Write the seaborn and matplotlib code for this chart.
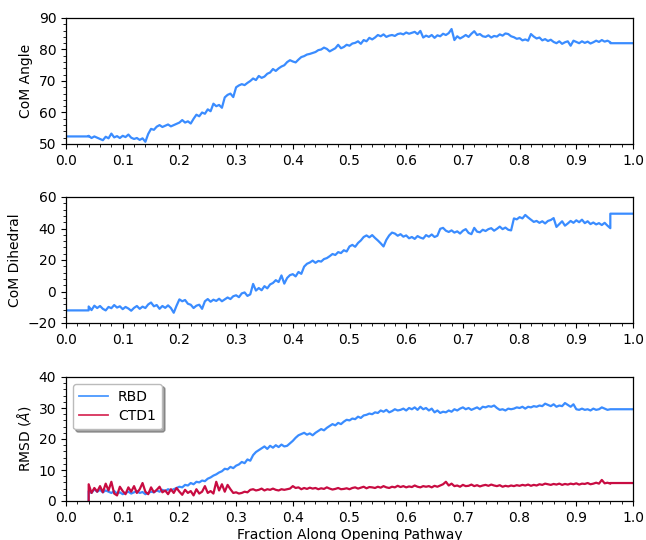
import numpy as np
import pandas as pd
import matplotlib
matplotlib.use("Agg")
import matplotlib.pyplot as plt
from matplotlib.ticker import MultipleLocator
import seaborn as sns

# ---- data ----
frac_start, frac_end, frac_step = 0.04, 0.96, 0.005
pad_left = [0.0, 0.04]
pad_left_rmsd = [0.04, 0.04]
pad_right = [0.96, 1.0]

com_angle = [
    52.6, 51.9, 52.4, 52.0, 51.6, 51.2, 52.3, 51.8, 53.3, 52.1,
    52.5, 51.9, 52.6, 52.2, 53.0, 52.0, 51.6, 51.9, 51.3, 51.8,
    50.7, 53.2, 54.8, 54.5, 55.5, 56.0, 55.4, 55.8, 56.2, 55.6,
    56.0, 56.4, 56.8, 57.6, 56.8, 57.2, 56.5, 58.0, 59.3, 58.8,
    60.0, 59.6, 61.0, 60.4, 62.8, 62.0, 62.4, 61.5, 64.8, 65.6,
    66.0, 64.9, 68.0, 68.6, 69.0, 68.7, 69.4, 70.0, 70.8, 70.3,
    71.6, 71.0, 71.4, 72.3, 72.7, 73.8, 73.2, 74.0, 74.6, 75.0,
    76.0, 76.6, 76.2, 75.9, 76.8, 77.6, 77.9, 78.4, 78.6, 78.9,
    79.2, 79.8, 80.0, 80.6, 80.2, 79.4, 79.9, 80.4, 81.5, 80.4,
    80.8, 81.5, 81.2, 81.9, 82.1, 82.6, 81.8, 83.0, 82.6, 83.7,
    83.2, 83.8, 84.6, 84.2, 84.8, 84.0, 84.4, 84.6, 84.3, 84.9,
    85.1, 84.8, 85.4, 85.0, 85.3, 85.6, 84.9, 85.9, 83.8, 84.4,
    84.0, 84.6, 83.7, 84.5, 84.2, 85.0, 84.6, 85.2, 86.5, 83.0,
    84.2, 83.5, 84.0, 84.6, 84.0, 85.0, 85.8, 84.6, 84.9, 84.2,
    84.0, 84.5, 83.8, 84.3, 84.1, 84.8, 84.4, 85.1, 84.9, 84.2,
    83.9, 83.4, 83.6, 82.9, 83.2, 82.8, 84.9, 84.1, 83.5, 83.8,
    82.9, 83.3, 82.7, 83.1, 82.4, 82.0, 82.6, 81.8, 82.3, 82.6,
    81.2, 82.8, 82.4, 82.0, 82.6, 82.1, 82.5, 81.9, 82.3, 82.8,
    82.4, 83.0, 82.5, 82.8, 82.3,
]
angle_pad = [52.4, 52.4, 82.0, 82.0]

com_dihedral = [
    -9.5, -11.8, -9.0, -10.5, -9.2, -11.0, -12.0, -9.8, -10.6, -8.6,
    -10.2, -9.4, -11.2, -9.8, -10.8, -12.2, -10.4, -9.2, -11.0, -9.6,
    -10.5, -8.2, -7.0, -9.4, -8.6, -11.0, -9.2, -10.4, -8.8, -10.5,
    -13.5, -9.0, -5.0, -6.2, -5.4, -7.8, -8.4, -10.5, -9.0, -8.4,
    -11.0, -6.2, -4.8, -6.5, -5.2, -6.0, -4.6, -6.2, -5.0, -3.8,
    -4.8, -3.0, -2.4, -3.6, -1.2, -0.6, -2.8, -1.8, 4.8, 0.6,
    2.2, 0.8, 3.4, 2.0, 4.5, 5.4, 7.2, 6.0, 10.2, 5.0,
    8.6, 10.4, 11.0, 9.6, 12.4, 11.2, 15.8, 17.6, 18.4, 19.6,
    18.2, 19.4, 19.0, 20.6, 21.2, 22.4, 23.8, 23.2, 25.0, 24.4,
    26.2, 25.4, 28.6, 29.6, 28.4, 30.8, 32.4, 34.6, 35.6, 34.4,
    35.8, 34.0, 32.4, 30.6, 28.6, 32.8, 35.6, 37.4, 36.8, 35.4,
    36.4, 34.8, 35.6, 33.8, 34.6, 33.4, 35.2, 34.2, 33.6, 35.8,
    34.8, 36.2, 34.6, 35.4, 39.8, 40.4, 38.6, 37.8, 38.8, 37.4,
    38.2, 36.8, 38.6, 39.6, 37.2, 36.4, 40.4, 38.0, 37.6, 39.2,
    38.4, 39.6, 40.2, 38.6, 39.8, 41.2, 39.6, 40.6, 39.2, 38.8,
    46.4, 45.8, 47.2, 46.4, 48.6, 47.0, 45.6, 44.2, 44.8, 43.6,
    44.6, 43.2, 44.8, 45.4, 46.6, 41.0, 42.8, 44.6, 41.8, 43.2,
    44.8, 43.6, 45.2, 44.0, 45.6, 43.4, 44.6, 42.8, 43.8, 42.6,
    43.4, 42.2, 43.6, 41.8, 40.2,
]
dihedral_pad = [-12.0, -12.0, 49.4, 49.4]

rmsd_rbd = [
    3.2, 2.6, 3.8, 3.0, 3.6, 2.8, 3.4, 3.0, 2.6, 3.2,
    2.4, 2.8, 2.2, 2.6, 3.0, 2.4, 2.8, 3.2, 2.6, 2.9,
    2.2, 2.6, 3.0, 2.8, 3.4, 3.0, 3.6, 3.2, 3.8, 3.4,
    3.8, 4.2, 4.6, 4.4, 5.2, 5.0, 5.8, 5.4, 6.2, 6.0,
    6.6, 6.4, 7.2, 7.6, 8.2, 8.6, 9.2, 9.6, 10.4, 10.2,
    11.0, 10.6, 11.4, 11.8, 12.6, 12.2, 13.4, 13.0, 14.8, 15.8,
    16.4, 17.0, 17.6, 16.8, 17.8, 17.2, 18.0, 17.4, 18.2, 17.6,
    17.8, 18.6, 19.4, 20.4, 21.2, 21.6, 22.0, 21.4, 21.8, 21.2,
    22.0, 22.6, 23.2, 22.8, 23.6, 24.2, 24.8, 24.4, 25.2, 24.8,
    25.6, 26.2, 26.0, 26.6, 26.4, 27.2, 26.8, 27.6, 27.8, 28.2,
    28.0, 28.6, 28.4, 29.2, 28.8, 29.4, 28.6, 29.0, 29.6, 29.2,
    29.4, 29.8, 29.2, 30.0, 29.6, 30.2, 29.4, 30.4, 29.6, 30.0,
    29.2, 29.8, 28.6, 29.2, 28.4, 28.8, 28.6, 29.2, 28.8, 29.6,
    29.2, 29.8, 30.2, 29.6, 30.0, 29.4, 29.8, 30.2, 29.6, 30.4,
    30.2, 30.6, 30.4, 30.8, 30.0, 29.4, 29.6, 29.2, 29.8, 29.6,
    29.8, 30.2, 30.0, 30.4, 29.8, 30.4, 30.2, 30.6, 30.4, 30.8,
    30.6, 31.4, 31.0, 30.6, 31.2, 30.4, 30.8, 30.6, 31.6, 31.0,
    30.4, 31.2, 29.6, 29.4, 29.8, 29.4, 29.6, 29.2, 29.8, 29.4,
    29.6, 30.2, 29.8, 29.4, 29.6,
]
rbd_pad = [0.0, 0.0, 29.6, 29.6]

rmsd_ctd1 = [
    5.4, 2.6, 4.2, 3.0, 4.8, 2.8, 5.6, 3.4, 6.2, 2.4,
    1.8, 4.6, 3.2, 2.2, 4.4, 3.0, 4.8, 2.6, 3.8, 5.8,
    3.0, 2.2, 4.4, 2.8, 3.6, 4.6, 2.8, 3.4, 2.2, 3.8,
    2.6, 4.2, 3.0, 2.0, 3.6, 2.6, 3.2, 1.8, 3.8, 2.4,
    3.0, 4.8, 2.6, 3.2, 2.4, 6.2, 3.4, 5.4, 3.0, 5.2,
    3.8, 2.6, 2.8, 2.4, 2.6, 3.0, 2.8, 3.6, 3.8, 3.4,
    3.6, 4.0, 3.4, 3.8, 3.6, 4.0, 3.6, 3.4, 3.8, 3.6,
    3.8, 4.0, 4.8, 4.2, 4.4, 3.8, 4.2, 3.9, 4.3, 4.0,
    4.2, 3.8, 4.1, 3.9, 4.4, 4.0, 3.7, 3.9, 4.2, 3.8,
    3.9, 4.1, 3.8, 4.2, 4.4, 4.0, 4.3, 4.6, 4.1, 4.5,
    4.4, 4.2, 4.6, 4.3, 4.8, 4.4, 4.2, 4.6, 4.4, 4.9,
    4.5, 4.8, 4.4, 4.7, 4.5, 5.0, 4.6, 4.4, 4.8, 4.6,
    4.8, 4.4, 4.9, 4.6, 5.0, 5.4, 6.2, 5.0, 5.6, 4.8,
    5.0, 4.6, 5.2, 4.8, 4.9, 5.3, 4.8, 5.1, 4.7, 5.0,
    5.2, 4.9, 5.3, 5.0, 4.8, 5.1, 4.6, 4.9, 4.7, 5.0,
    4.8, 5.1, 4.9, 5.2, 5.0, 5.3, 4.9, 5.2, 5.0, 5.4,
    5.2, 5.6, 5.4, 5.2, 5.5, 5.3, 5.6, 5.2, 5.5, 5.3,
    5.6, 5.4, 5.7, 5.3, 5.6, 5.5, 5.8, 5.4, 5.6, 5.9,
    5.6, 6.8, 5.7, 5.9, 5.6,
]
ctd1_pad = [0.0, 0.0, 5.8, 5.8]

series_labels = ["RBD", "CTD1"]
y_labels = ["CoM Angle", "CoM Dihedral", "RMSD ($\\AA$)"]
x_label = "Fraction Along Opening Pathway"

# ---- build tables ----
n = len(com_angle)
frac = np.round(frac_start + frac_step * np.arange(n), 4)


def padded(vals, pad, left=pad_left):
    x = np.concatenate([left, frac, pad_right])
    y = np.concatenate([pad[:2], vals, pad[2:]])
    return pd.DataFrame({"x": x, "y": y})


BLUE = "#3a8cff"
RED = "#c80c42"

plt.rcParams["font.family"] = ["DejaVu Sans"]
plt.rcParams["font.size"] = 10
plt.rcParams["xtick.labelsize"] = 10
plt.rcParams["ytick.labelsize"] = 10

fig = plt.figure(figsize=(6.46, 5.40), dpi=100)
W, H = 646, 540
L, R = 66, 633
boxes = [(18, 144), (197, 323), (377, 501)]
axes = []
for top, bot in boxes:
    ax = fig.add_axes([L / W, 1 - bot / H, (R - L) / W, (bot - top) / H])
    axes.append(ax)

lw = 1.6
d = padded(com_angle, angle_pad)
sns.lineplot(data=d, x="x", y="y", ax=axes[0], color=BLUE, linewidth=lw,
             sort=False, estimator=None)
d = padded(com_dihedral, dihedral_pad)
sns.lineplot(data=d, x="x", y="y", ax=axes[1], color=BLUE, linewidth=lw,
             sort=False, estimator=None)
d = padded(rmsd_rbd, rbd_pad, pad_left_rmsd)
sns.lineplot(data=d, x="x", y="y", ax=axes[2], color=BLUE, linewidth=lw,
             sort=False, estimator=None, label=series_labels[0])
d = padded(rmsd_ctd1, ctd1_pad, pad_left_rmsd)
sns.lineplot(data=d, x="x", y="y", ax=axes[2], color=RED, linewidth=lw,
             sort=False, estimator=None, label=series_labels[1])

ylims = [(50, 90), (-20, 60), (0, 40)]
ymaj = [10, 20, 10]
ymin = [2, 4, 2]
for i, ax in enumerate(axes):
    ax.set_xlim(0, 1)
    ax.set_ylim(*ylims[i])
    ax.xaxis.set_major_locator(MultipleLocator(0.1))
    ax.xaxis.set_minor_locator(MultipleLocator(0.02))
    ax.yaxis.set_major_locator(MultipleLocator(ymaj[i]))
    ax.yaxis.set_minor_locator(MultipleLocator(ymin[i]))
    ax.tick_params(which="major", direction="out", length=3.5, width=0.8)
    ax.tick_params(which="minor", direction="out", length=2, width=0.6)
    ax.set_ylabel(y_labels[i], fontsize=10)
    ax.set_xlabel("")
    for s in ax.spines.values():
        s.set_linewidth(0.9)
axes[2].set_xlabel(x_label, fontsize=10, labelpad=2)

leg = axes[2].legend(loc="upper left", fancybox=True, shadow=True,
                     fontsize=10, handlelength=2.1, borderpad=0.45,
                     labelspacing=0.35, handletextpad=0.7, framealpha=1)
leg.get_frame().set_edgecolor("#bbbbbb")
leg.get_lines()[0].set_color("#4a98ff")
leg.get_lines()[1].set_color("#d8305a")
for h in leg.get_lines():
    h.set_linewidth(1.3)

fig.savefig("out.png", dpi=100)
